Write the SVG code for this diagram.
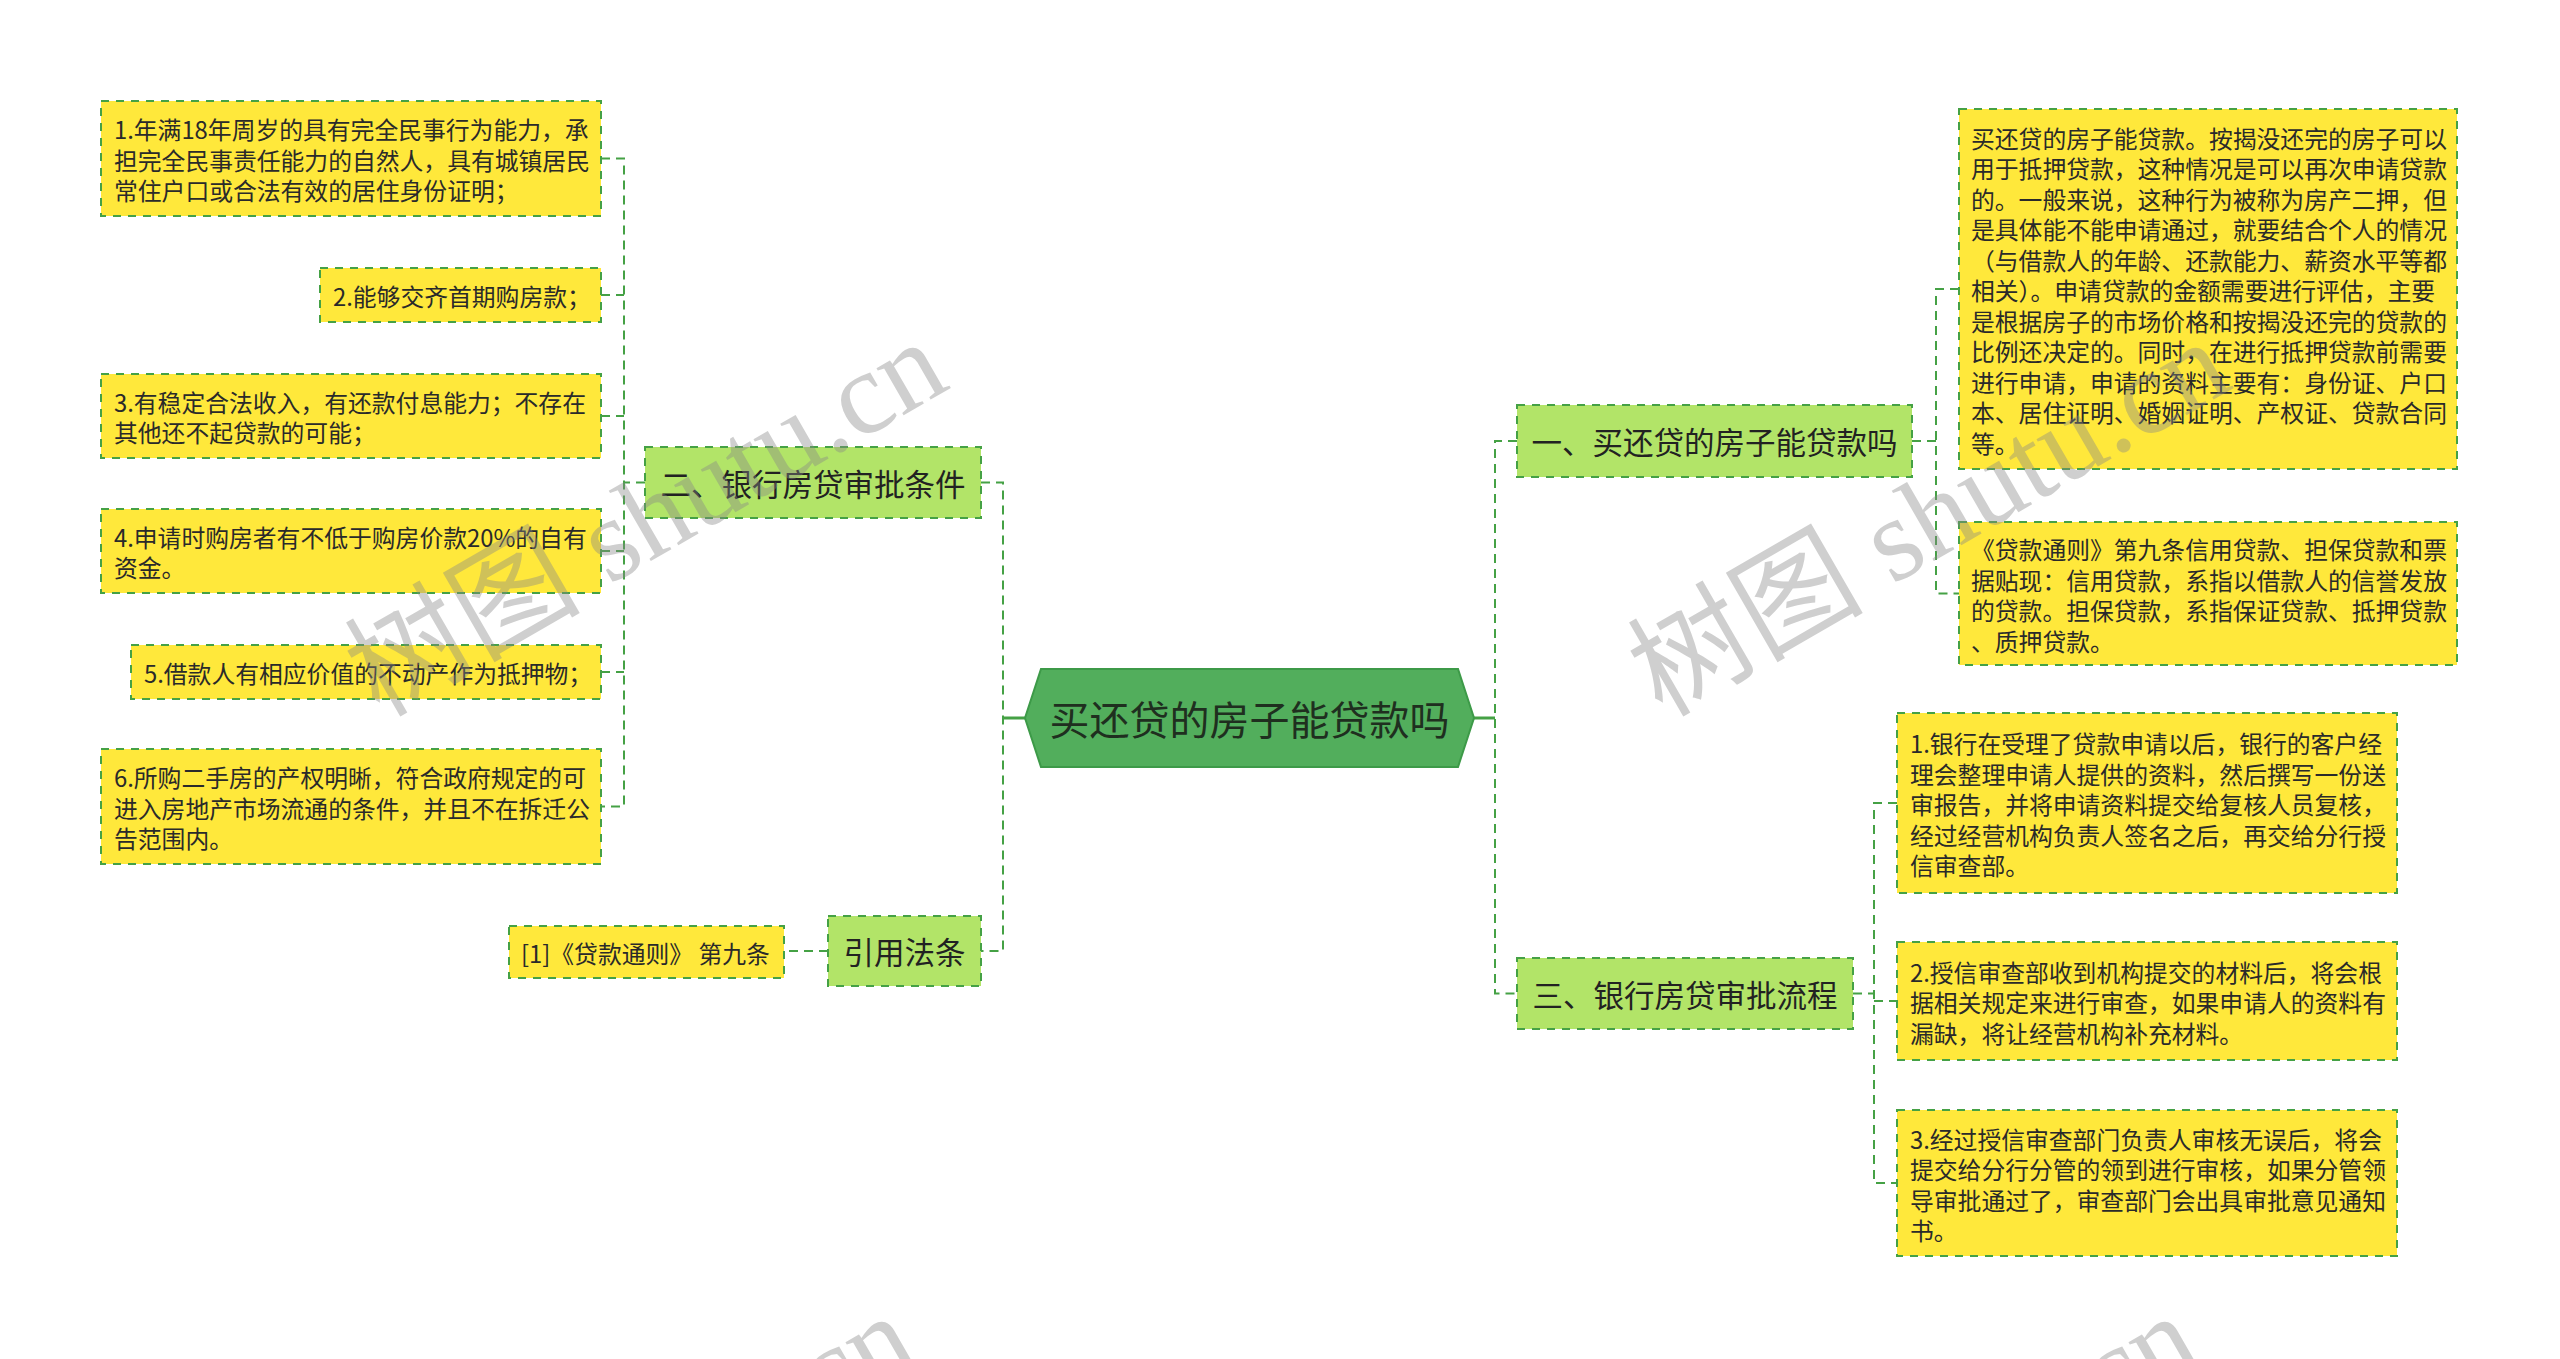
<svg xmlns="http://www.w3.org/2000/svg" width="2560" height="1359" viewBox="0 0 2560 1359">
<style>
.leaf{fill:#FFE83B;stroke:#45A145;stroke-width:2;stroke-dasharray:8 7}
.l1{fill:#B2E468;stroke:#45A145;stroke-width:2;stroke-dasharray:8 7}
.t{font-family:"Noto Sans CJK SC","Liberation Sans",sans-serif;font-size:23.8px;fill:#2a2a2a;dominant-baseline:central}
.t1{font-family:"Noto Sans CJK SC","Liberation Sans",sans-serif;font-size:30.5px;fill:#222;dominant-baseline:central;text-anchor:middle}
.con{fill:none;stroke:#45A145;stroke-width:2;stroke-dasharray:9 6}
.solid{fill:none;stroke:#45A145;stroke-width:3}
.wm{font-family:"Liberation Serif","Noto Sans CJK SC",serif;font-size:118px;fill:#888;opacity:0.4}
</style>
<rect width="2560" height="1359" fill="#fff"/>

<g id="connectors">
  <path class="solid" d="M1025 718 H1003"/>
  <path class="con" d="M981 482.5 H1003 V951 H981"/>
  <path class="solid" d="M1474 718 H1495"/>
  <path class="con" d="M1517 441 H1495 V993.5 H1517"/>
  <path class="con" d="M645 482.5 H624"/>
  <path class="con" d="M601 158.5 H624 V806.5 H601"/>
  <path class="con" d="M601 295 H624"/>
  <path class="con" d="M601 416 H624"/>
  <path class="con" d="M601 551 H624"/>
  <path class="con" d="M601 672 H624"/>
  <path class="con" d="M828 951 H784"/>
  <path class="con" d="M1912 441 H1936"/>
  <path class="con" d="M1959 289 H1936 V593.5 H1959"/>
  <path class="con" d="M1853 993.5 H1874"/>
  <path class="con" d="M1897 803 H1874 V1183 H1897"/>
  <path class="con" d="M1874 1001 H1897"/>
</g>

<g id="center">
  <polygon points="1025,718 1041,669 1458,669 1474,718 1458,767 1041,767" fill="#52AE5C" stroke="#3D9A48" stroke-width="2"/>
  <text x="1249.5" y="718" font-family="'Noto Sans CJK SC','Liberation Sans',sans-serif" font-size="40" fill="#1f2f1f" text-anchor="middle" dominant-baseline="central">买还贷的房子能贷款吗</text>
</g>

<g id="n-er">
  <rect class="l1" x="645" y="447" width="336" height="71"/>
  <text class="t1" x="813" y="482.5">二、银行房贷审批条件</text>
</g>
<g id="n-yinyong">
  <rect class="l1" x="828" y="916" width="153" height="70"/>
  <text class="t1" x="904.5" y="951">引用法条</text>
</g>
<g id="n-yi">
  <rect class="l1" x="1517" y="405" width="395" height="72"/>
  <text class="t1" x="1714.5" y="441">一、买还贷的房子能贷款吗</text>
</g>
<g id="n-san">
  <rect class="l1" x="1517" y="958" width="336" height="71"/>
  <text class="t1" x="1685" y="993.5">三、银行房贷审批流程</text>
</g>

<g id="c1">
  <rect class="leaf" x="101" y="101" width="500" height="115"/>
  <text class="t"><tspan x="114" y="128">1.年满18年周岁的具有完全民事行为能力，承</tspan><tspan x="114" y="158.5">担完全民事责任能力的自然人，具有城镇居民</tspan><tspan x="114" y="189">常住户口或合法有效的居住身份证明；</tspan></text>
</g>
<g id="c2">
  <rect class="leaf" x="320" y="268" width="281" height="54"/>
  <text class="t" x="333" y="295">2.能够交齐首期购房款；</text>
</g>
<g id="c3">
  <rect class="leaf" x="101" y="374" width="500" height="84"/>
  <text class="t"><tspan x="114" y="400.5">3.有稳定合法收入，有还款付息能力；不存在</tspan><tspan x="114" y="431">其他还不起贷款的可能；</tspan></text>
</g>
<g id="c4">
  <rect class="leaf" x="101" y="509" width="500" height="84"/>
  <text class="t"><tspan x="114" y="535.5">4.申请时购房者有不低于购房价款20%的自有</tspan><tspan x="114" y="566">资金。</tspan></text>
</g>
<g id="c5">
  <rect class="leaf" x="131" y="645" width="470" height="54"/>
  <text class="t" x="144" y="672">5.借款人有相应价值的不动产作为抵押物；</text>
</g>
<g id="c6">
  <rect class="leaf" x="101" y="749" width="500" height="115"/>
  <text class="t"><tspan x="114" y="776">6.所购二手房的产权明晰，符合政府规定的可</tspan><tspan x="114" y="806.5">进入房地产市场流通的条件，并且不在拆迁公</tspan><tspan x="114" y="837">告范围内。</tspan></text>
</g>
<g id="c7">
  <rect class="leaf" x="509" y="926" width="275" height="52"/>
  <text class="t" x="521" y="952">[1]《贷款通则》 第九条</text>
</g>

<g id="ra">
  <rect class="leaf" x="1959" y="109" width="498" height="360"/>
  <text class="t"><tspan x="1971" y="136.5">买还贷的房子能贷款。按揭没还完的房子可以</tspan><tspan x="1971" y="167">用于抵押贷款，这种情况是可以再次申请贷款</tspan><tspan x="1971" y="197.5">的。一般来说，这种行为被称为房产二押，但</tspan><tspan x="1971" y="228">是具体能不能申请通过，就要结合个人的情况</tspan><tspan x="1971" y="258.5">（与借款人的年龄、还款能力、薪资水平等都</tspan><tspan x="1971" y="289">相关）。申请贷款的金额需要进行评估，主要</tspan><tspan x="1971" y="319.5">是根据房子的市场价格和按揭没还完的贷款的</tspan><tspan x="1971" y="350">比例还决定的。同时，在进行抵押贷款前需要</tspan><tspan x="1971" y="380.5">进行申请，申请的资料主要有：身份证、户口</tspan><tspan x="1971" y="411">本、居住证明、婚姻证明、产权证、贷款合同</tspan><tspan x="1971" y="441.5">等。</tspan></text>
</g>
<g id="rb">
  <rect class="leaf" x="1959" y="522" width="498" height="143"/>
  <text class="t"><tspan x="1971" y="548">《贷款通则》第九条信用贷款、担保贷款和票</tspan><tspan x="1971" y="578.5">据贴现：信用贷款，系指以借款人的信誉发放</tspan><tspan x="1971" y="609">的贷款。担保贷款，系指保证贷款、抵押贷款</tspan><tspan x="1971" y="639.5">、质押贷款。</tspan></text>
</g>
<g id="s1">
  <rect class="leaf" x="1897" y="713" width="500" height="180"/>
  <text class="t"><tspan x="1910" y="742">1.银行在受理了贷款申请以后，银行的客户经</tspan><tspan x="1910" y="772.5">理会整理申请人提供的资料，然后撰写一份送</tspan><tspan x="1910" y="803">审报告，并将申请资料提交给复核人员复核，</tspan><tspan x="1910" y="833.5">经过经营机构负责人签名之后，再交给分行授</tspan><tspan x="1910" y="864">信审查部。</tspan></text>
</g>
<g id="s2">
  <rect class="leaf" x="1897" y="942" width="500" height="118"/>
  <text class="t"><tspan x="1910" y="970.5">2.授信审查部收到机构提交的材料后，将会根</tspan><tspan x="1910" y="1001">据相关规定来进行审查，如果申请人的资料有</tspan><tspan x="1910" y="1031.5">漏缺，将让经营机构补充材料。</tspan></text>
</g>
<g id="s3">
  <rect class="leaf" x="1897" y="1110" width="500" height="146"/>
  <text class="t"><tspan x="1910" y="1137.5">3.经过授信审查部门负责人审核无误后，将会</tspan><tspan x="1910" y="1168">提交给分行分管的领到进行审核，如果分管领</tspan><tspan x="1910" y="1198.5">导审批通过了，审查部门会出具审批意见通知</tspan><tspan x="1910" y="1229">书。</tspan></text>
</g>

<g id="watermark">
  <text class="wm" transform="translate(379 718) rotate(-30)">树图 shutu.cn</text>
  <text class="wm" transform="translate(1662 718) rotate(-30)">树图 shutu.cn</text>
  <text class="wm" transform="translate(348 1692) rotate(-30)">树图 shutu.cn</text>
  <text class="wm" transform="translate(1631 1692) rotate(-30)">树图 shutu.cn</text>
</g>
</svg>
